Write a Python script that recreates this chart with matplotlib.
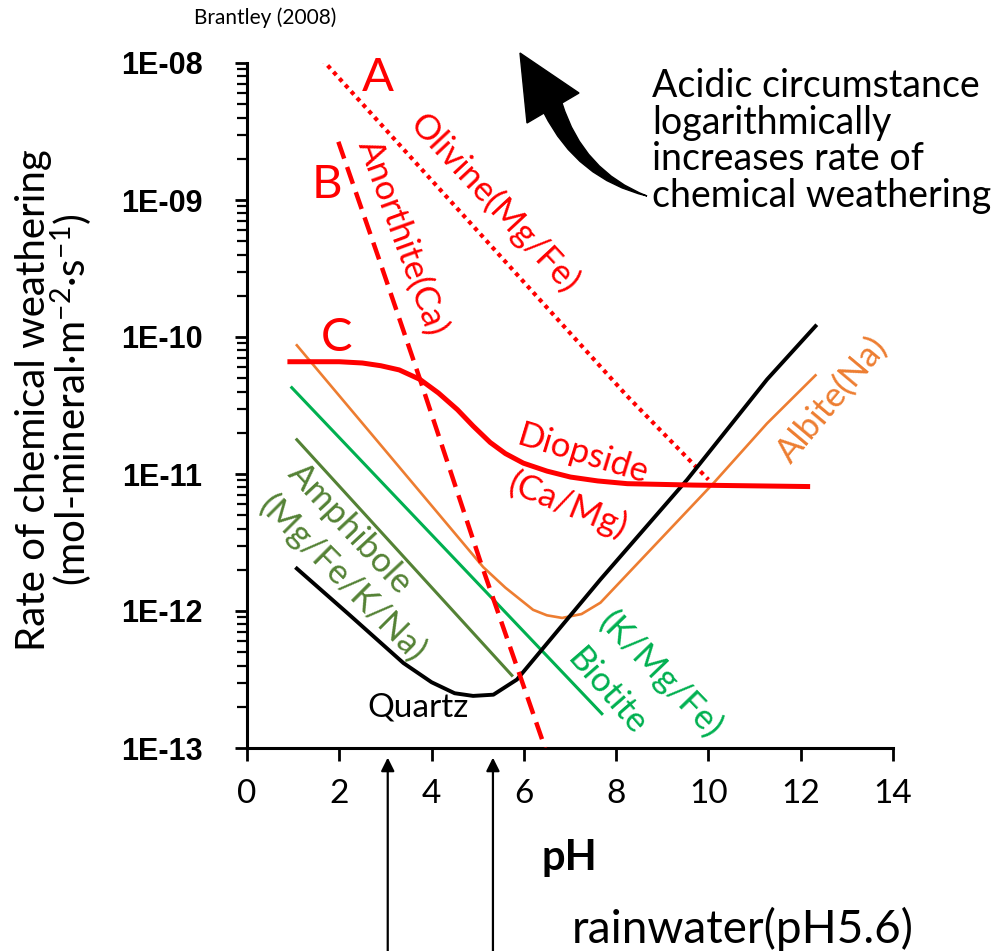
import numpy as np
import matplotlib
matplotlib.use('Agg')
import matplotlib.pyplot as plt
from matplotlib.path import Path
from matplotlib.patches import PathPatch
from matplotlib.ticker import LogLocator, FuncFormatter, NullFormatter

plt.rcParams['font.family'] = ['Lato', 'DejaVu Sans']
plt.rcParams['mathtext.fontset'] = 'custom'
plt.rcParams['mathtext.rm'] = 'Lato'
plt.rcParams['mathtext.default'] = 'regular'

# rates in mol-mineral m-2 s-1
olivine_ph = [1.62, 8.24, 10.0]
olivine_rate = [1.07e-8, 3.7e-11, 9.1e-12]

anorthite_ph = [1.98, 2.89, 3.75, 5.05, 6.46]
anorthite_rate = [2.66e-9, 3.47e-10, 4.9e-11, 2.34e-12, 1.0e-13]

diopside_ph = [0.93, 2.0, 2.5, 2.9, 3.3, 3.75, 4.15, 4.56, 4.9, 5.27, 5.6, 5.99,
               6.5, 7.01, 7.6, 8.24, 9.67, 12.15]
diopside_rate = [6.6e-11, 6.6e-11, 6.46e-11, 6.17e-11, 5.75e-11, 4.9e-11, 3.9e-11, 2.95e-11,
                 2.24e-11, 1.7e-11, 1.41e-11, 1.2e-11, 1.05e-11, 9.5e-12, 8.9e-12, 8.5e-12,
                 8.3e-12, 8.1e-12]

albite_ph = [1.08, 3.1, 5.12, 5.6, 6.2, 6.5, 6.83, 7.25, 7.66, 8.5, 10.1, 11.27, 12.32]
albite_rate = [8.7e-11, 1.35e-11, 2.09e-12, 1.48e-12, 1.02e-12, 9.3e-13, 8.9e-13, 9.5e-13,
               1.15e-12, 2.29e-12, 8.5e-12, 2.34e-11, 5.25e-11]

biotite_ph = [0.97, 7.69]
biotite_rate = [4.27e-11, 1.78e-13]

amphibole_ph = [1.08, 5.74]
amphibole_rate = [1.78e-11, 3.39e-13]

quartz_ph = [1.08, 2.2, 3.39, 4.0, 4.5, 4.9, 5.34, 5.85, 6.54, 7.66, 9.54, 11.27, 12.32]
quartz_rate = [2.04e-12, 9.5e-13, 4.17e-13, 3.02e-13, 2.51e-13, 2.40e-13, 2.45e-13, 3.16e-13,
               6.0e-13, 1.70e-12, 9.1e-12, 4.9e-11, 1.20e-10]

arrow_ph = [3.05, 5.33]
xticks = [0, 2, 4, 6, 8, 10, 12, 14]

RED = '#ff0000'
ORANGE = '#ed7d31'
GREEN = '#00b050'
OLIVE = '#548235'

W, H = 1004, 951
fig = plt.figure(figsize=(W / 100, H / 100), dpi=100)
ax = fig.add_axes([247 / W, 1 - 748 / H, 646 / W, 685 / H])

ax.plot(olivine_ph, olivine_rate, color=RED, lw=3, dashes=(1, 1.1), zorder=3)
ax.plot(albite_ph, albite_rate, color=ORANGE, lw=1.9, zorder=2)
ax.plot(biotite_ph, biotite_rate, color=GREEN, lw=2.2, zorder=2)
ax.plot(amphibole_ph, amphibole_rate, color=OLIVE, lw=2.2, zorder=2)
ax.plot(quartz_ph, quartz_rate, color='black', lw=2.8, zorder=3)
ax.plot(diopside_ph, diopside_rate, color=RED, lw=3.6, zorder=4, solid_joinstyle='round')
ax.plot(anorthite_ph, anorthite_rate, color=RED, lw=3.2, dashes=(4, 2), zorder=5)

ax.set_yscale('log')
ax.set_ylim(1e-13, 1e-8)
ax.set_xlim(0, 14)
ax.set_xticks(xticks)
ax.yaxis.set_major_locator(LogLocator(base=10, numticks=10))
ax.yaxis.set_minor_locator(LogLocator(base=10, subs=np.arange(2, 10), numticks=10))
ax.yaxis.set_minor_formatter(NullFormatter())
ax.yaxis.set_major_formatter(FuncFormatter(lambda v, _: '1E-%02d' % round(-np.log10(v))))

for s in ['top', 'right']:
    ax.spines[s].set_visible(False)
for s in ['left', 'bottom']:
    ax.spines[s].set_linewidth(2.2)
ax.tick_params(axis='both', which='major', direction='out', length=9, width=2)
ax.tick_params(axis='y', which='minor', direction='out', length=7, width=1.6)
ax.tick_params(axis='x', labelsize=24, pad=13)
ax.tick_params(axis='y', labelsize=22, pad=23)
for lab in ax.get_yticklabels():
    lab.set_fontfamily('Liberation Sans')
    lab.set_fontweight('bold')

ax.set_xlabel('pH', fontsize=30, fontweight='bold')
ax.xaxis.set_label_coords((569 - 247) / 646, (748 - 858) / 685)
ax.xaxis.label.set_va('center')

fig.text(55 / W, 1 - 400 / H, 'Rate of chemical weathering\n(mol-mineral·m$^{-2}$·s$^{-1}$)',
         rotation=90, ha='center', va='center', fontsize=29, linespacing=0.92,
         multialignment='center')

# curve labels
ax.text(2.84, 7.8e-9, 'A', color=RED, fontsize=34, ha='center', va='center')
ax.text(1.74, 1.29e-9, 'B', color=RED, fontsize=34, ha='center', va='center')
ax.text(1.93, 9.8e-11, 'C', color=RED, fontsize=34, ha='center', va='center')
ax.text(5.36, 9.5e-10, 'Olivine(Mg/Fe)', color=RED, fontsize=25, rotation=-47,
        ha='center', va='center', rotation_mode='anchor')
ax.text(3.36, 5.3e-10, 'Anorthite(Ca)', color=RED, fontsize=25, rotation=-70,
        ha='center', va='center', rotation_mode='anchor')
ax.text(7.29, 1.38e-11, 'Diopside', color=RED, fontsize=25, rotation=-17,
        ha='center', va='center', rotation_mode='anchor')
ax.text(6.94, 5.9e-12, '(Ca/Mg)', color=RED, fontsize=25, rotation=-22,
        ha='center', va='center', rotation_mode='anchor')
ax.text(12.69, 3.5e-11, 'Albite(Na)', color=ORANGE, fontsize=25, rotation=50,
        ha='center', va='center', rotation_mode='anchor')
ax.text(2.23, 4.0e-12, 'Amphibole', color=OLIVE, fontsize=25, rotation=-47,
        ha='center', va='center', rotation_mode='anchor')
ax.text(2.06, 1.74e-12, '(Mg/Fe/K/Na)', color=OLIVE, fontsize=25, rotation=-45,
        ha='center', va='center', rotation_mode='anchor')
ax.text(3.71, 1.96e-13, 'Quartz', color='black', fontsize=24, ha='center', va='center')
ax.text(7.81, 2.56e-13, 'Biotite', color=GREEN, fontsize=25, rotation=-49,
        ha='center', va='center', rotation_mode='anchor')
ax.text(8.96, 3.41e-13, '(K/Mg/Fe)', color=GREEN, fontsize=25, rotation=-46,
        ha='center', va='center', rotation_mode='anchor')

# rainwater arrows under the axis
for p in arrow_ph:
    ax.annotate('', xy=(p, -0.014), xycoords=('data', 'axes fraction'),
                xytext=(p, -0.31), textcoords=('data', 'axes fraction'),
                arrowprops=dict(arrowstyle='-|>', color='black', lw=1.6, mutation_scale=20,
                                shrinkA=0, shrinkB=0),
                annotation_clip=False)

fig.text(572 / W, 1 - 929 / H, 'rainwater(pH5.6)', fontsize=33, ha='left', va='center')
fig.text(265 / W, 1 - 18 / H, 'Brantley (2008)', fontsize=15, ha='center', va='center')
fig.text(652 / W, 1 - 68 / H,
         'Acidic circumstance\nlogarithmically\nincreases rate of\nchemical weathering',
         fontsize=27, ha='left', va='top', linespacing=1.02)

# big curved arrow (figure pixel coords, y down)
def px(x, y):
    return (x / W, 1 - y / H)

verts = [px(647, 196), px(583, 171), px(562, 103), px(579, 93), px(520, 53),
         px(527, 123), px(544, 113), px(577, 179), px(647, 196), px(647, 196)]
codes = [Path.MOVETO, Path.CURVE3, Path.CURVE3, Path.LINETO, Path.LINETO,
         Path.LINETO, Path.LINETO, Path.CURVE3, Path.CURVE3, Path.CLOSEPOLY]
fig.patches.append(PathPatch(Path(verts, codes), facecolor='black', edgecolor='black',
                             lw=1, transform=fig.transFigure, figure=fig))

fig.savefig('out.png', dpi=100, facecolor='white')
